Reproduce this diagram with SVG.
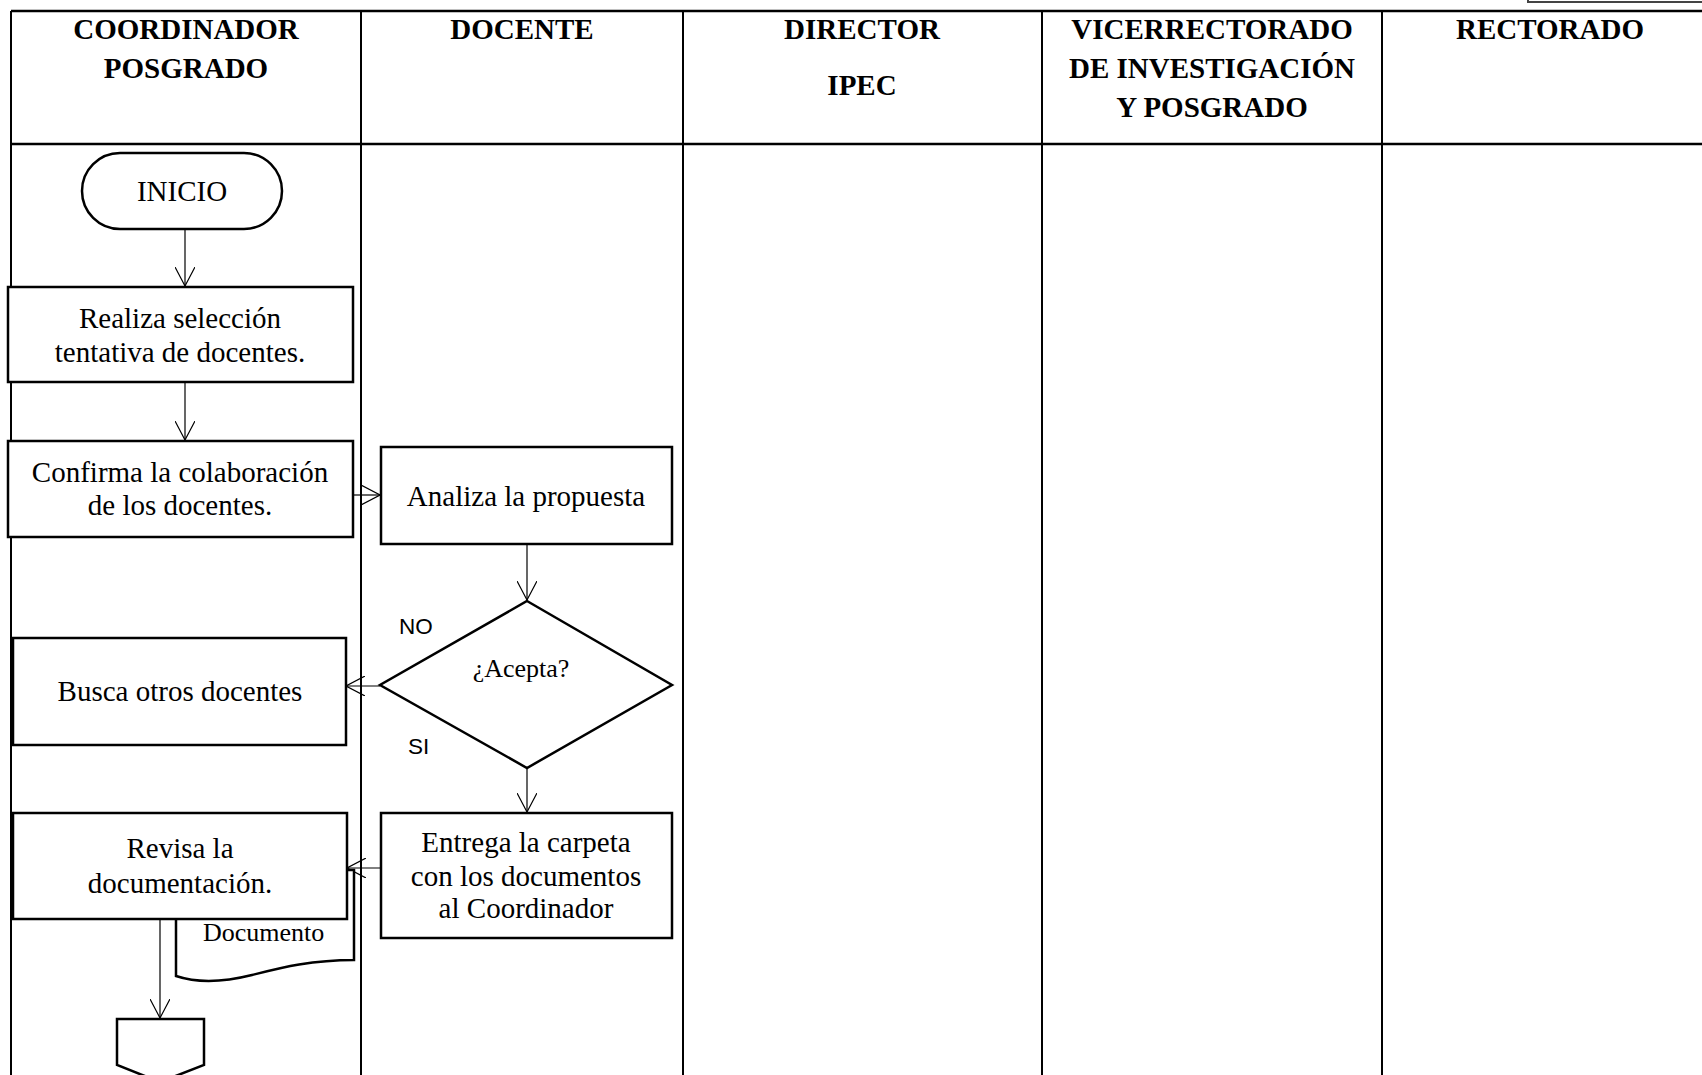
<svg xmlns="http://www.w3.org/2000/svg" width="1702" height="1075" viewBox="0 0 1702 1075">
<style>
.hdr{font-family:"Liberation Serif","Times New Roman",serif;font-weight:bold;font-size:29px;text-anchor:middle;fill:#000}
.t{font-family:"Liberation Serif","Times New Roman",serif;font-size:29px;text-anchor:middle;fill:#000}
.s{font-family:"Liberation Sans",Arial,sans-serif;font-size:22.5px;fill:#000}
.box{fill:#fff;stroke:#000;stroke-width:2.5}
.grid{stroke:#000;fill:none}
.conn{stroke:#000;stroke-width:1.2;fill:none;marker-end:url(#arr)}
</style>
<defs>
<marker id="arr" viewBox="0 0 20 20" refX="19" refY="10" markerWidth="20" markerHeight="20" markerUnits="userSpaceOnUse" orient="auto">
<path d="M0,0 L19,10 L0,20" fill="none" stroke="#000" stroke-width="1.2"/>
</marker>
</defs>
<rect width="1702" height="1075" fill="#fff"/>
<g id="table">
<path class="grid" stroke-width="2.5" d="M11,11 H1702 M11,144 H1702"/>
<path class="grid" stroke-width="2" d="M11,11 V1075 M361,11 V1075 M683,11 V1075 M1042,11 V1075 M1382,11 V1075"/>
<path d="M1528,0 V2 H1702" fill="none" stroke="#444" stroke-width="2"/>
</g>
<g id="headers">
<text class="hdr" x="186" y="39">COORDINADOR</text>
<text class="hdr" x="186" y="78">POSGRADO</text>
<text class="hdr" x="522" y="39">DOCENTE</text>
<text class="hdr" x="862" y="39">DIRECTOR</text>
<text class="hdr" x="862" y="95">IPEC</text>
<text class="hdr" x="1212" y="39">VICERRECTORADO</text>
<text class="hdr" x="1212" y="78">DE INVESTIGACIÓN</text>
<text class="hdr" x="1212" y="117">Y POSGRADO</text>
<text class="hdr" x="1550" y="39">RECTORADO</text>
</g>
<g id="connectors">
<line class="conn" x1="185" y1="229" x2="185" y2="286"/>
<line class="conn" x1="185" y1="382" x2="185" y2="440"/>
<line class="conn" x1="353" y1="495" x2="380" y2="495"/>
<line class="conn" x1="527" y1="544" x2="527" y2="600"/>
<line class="conn" x1="380" y1="686" x2="346" y2="686"/>
<line class="conn" x1="527" y1="768" x2="527" y2="812"/>
<line class="conn" x1="381" y1="868" x2="347" y2="868"/>
<line class="conn" x1="160" y1="919" x2="160" y2="1018"/>
</g>
<g id="inicio">
<rect class="box" x="82" y="153" width="200" height="76" rx="38" ry="38"/>
<text class="t" x="182" y="201">INICIO</text>
</g>
<g id="realiza">
<rect class="box" x="8" y="287" width="345" height="95"/>
<text class="t" x="180" y="328">Realiza selección</text>
<text class="t" x="180" y="362">tentativa de docentes.</text>
</g>
<g id="confirma">
<rect class="box" x="8" y="441" width="345" height="96"/>
<text class="t" x="180" y="482">Confirma la colaboración</text>
<text class="t" x="180" y="515">de los docentes.</text>
</g>
<g id="analiza">
<rect class="box" x="381" y="447" width="291" height="97"/>
<text class="t" x="526" y="506">Analiza la propuesta</text>
</g>
<g id="acepta">
<polygon class="box" points="527,601 672,685 527,768 380,685"/>
<text class="t" x="521" y="677" style="font-size:26px">¿Acepta?</text>
<text class="s" x="399" y="634">NO</text>
<text class="s" x="408" y="754">SI</text>
</g>
<g id="busca">
<rect class="box" x="13" y="638" width="333" height="107"/>
<text class="t" x="180" y="701">Busca otros docentes</text>
</g>
<g id="entrega">
<rect class="box" x="381" y="813" width="291" height="125"/>
<text class="t" x="526" y="852">Entrega la carpeta</text>
<text class="t" x="526" y="886">con los documentos</text>
<text class="t" x="526" y="918">al Coordinador</text>
</g>
<g id="documento">
<path class="box" d="M176,870 H354 V960 C310,960 280,968 252,975 C228,981 200,984 176,976 Z"/>
<text class="t" x="203" y="941" style="font-size:26px;text-anchor:start">Documento</text>
</g>
<g id="revisa">
<rect class="box" x="13" y="813" width="334" height="106"/>
<text class="t" x="180" y="858">Revisa la</text>
<text class="t" x="180" y="893">documentación.</text>
</g>
<g id="conector">
<path class="box" d="M117,1019 H204 V1065 L160,1082 L117,1065 Z"/>
</g>
</svg>
